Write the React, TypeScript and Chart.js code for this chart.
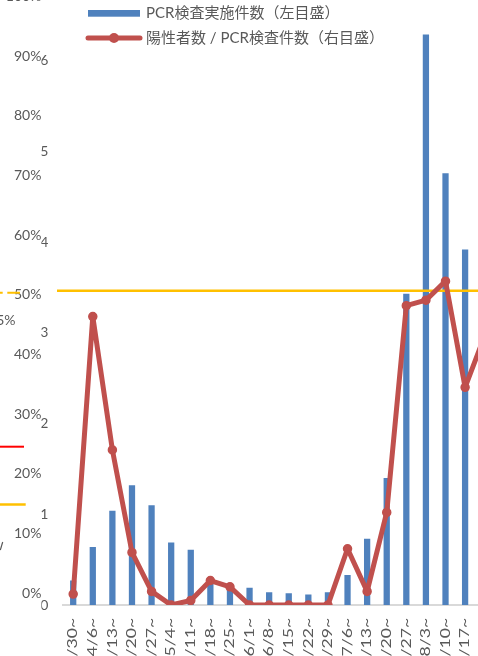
import React, { useEffect, useRef } from 'react';
import { Chart, registerables } from 'chart.js';

Chart.register(...registerables);

// ---- data ----
const categories = [
  '3/30~', '4/6~', '4/13~', '4/20~', '4/27~', '5/4~', '5/11~', '5/18~', '5/25~',
  '6/1~', '6/8~', '6/15~', '6/22~', '6/29~', '7/6~', '7/13~', '7/20~', '7/27~',
  '8/3~', '8/10~', '8/17~', '8/24~',
];
const pcrTests = [
  0.27, 0.64, 1.04, 1.32, 1.1, 0.69, 0.61, 0.24, 0.2,
  0.19, 0.14, 0.13, 0.115, 0.14, 0.33, 0.73, 1.4, 3.43,
  6.29, 4.76, 3.92, 3.5,
];
const positiveRatio = [
  0.12, 3.18, 1.71, 0.58, 0.15, 0, 0.05, 0.27, 0.2,
  0, 0, 0, 0, 0, 0.62, 0.15, 1.02, 3.3,
  3.36, 3.57, 2.4, 2.97,
];
const leftTicks = [0, 1, 2, 3, 4, 5, 6];
const pctTicks = [0, 10, 20, 30, 40, 50, 60, 70, 80, 90, 100];
const refLinePct = 50.7;
const barLabel = 'PCR検査実施件数（左目盛）';
const lineLabel = '陽性者数 / PCR検査件数（右目盛）';

const FONT = 'Lato, "Noto Sans CJK JP", sans-serif';
const GRAY = '#595959';
const BLUE = '#4F81BD';
const RED = '#C0504D';
const GOLD = '#FFC000';
const LABEL_STRETCH = 1.36;

export default function App() {
  const ref = useRef<HTMLCanvasElement>(null);

  useEffect(() => {
    const decor = {
      id: 'decor',
      beforeDraw(chart: any) {
        const s = chart.scales.x;
        if (s && !s.__stretched) {
          const orig = s.drawLabels.bind(s);
          s.drawLabels = (area: any) => {
            const ctx = chart.ctx;
            ctx.save();
            ctx.translate(0, s.top);
            ctx.scale(1, LABEL_STRETCH);
            ctx.translate(0, -s.top);
            orig(area);
            ctx.restore();
          };
          s.__stretched = true;
        }
      },
      afterDatasetDraw(chart: any, args: any) {
        if (args.meta.type !== 'bar') return;
        const ctx = chart.ctx;
        const y = chart.scales.yp.getPixelForValue(refLinePct);
        ctx.save();
        ctx.strokeStyle = GOLD;
        ctx.lineWidth = 2.5;
        ctx.beginPath();
        ctx.moveTo(chart.chartArea.left - 6.4, y);
        ctx.lineTo(chart.width, y);
        ctx.stroke();
        ctx.restore();
      },
      afterDraw(chart: any) {
        const ctx = chart.ctx;
        const off = 40;
        ctx.save();
        // legend
        ctx.font = `15px ${FONT}`;
        ctx.textBaseline = 'middle';
        ctx.textAlign = 'left';
        const ds = chart.data.datasets;
        ctx.fillStyle = BLUE;
        ctx.fillRect(88, 10 + off, 52, 6.7);
        ctx.fillStyle = GRAY;
        ctx.fillText(ds[0].label, 146, 13.5 + off);
        ctx.strokeStyle = RED;
        ctx.lineWidth = 5;
        ctx.lineCap = 'round';
        ctx.beginPath();
        ctx.moveTo(88, 38 + off);
        ctx.lineTo(140, 38 + off);
        ctx.stroke();
        ctx.fillStyle = RED;
        ctx.beginPath();
        ctx.arc(114, 38 + off, 5, 0, Math.PI * 2);
        ctx.fill();
        ctx.fillStyle = GRAY;
        ctx.fillText(ds[1].label, 146, 38.5 + off);

        // fragments of neighbouring chart at the left edge
        ctx.lineCap = 'butt';
        ctx.strokeStyle = GOLD;
        ctx.lineWidth = 2;
        ctx.beginPath();
        ctx.moveTo(0, 292.7 + off);
        ctx.lineTo(2.7, 292.7 + off);
        ctx.moveTo(7.3, 292.7 + off);
        ctx.lineTo(20, 292.7 + off);
        ctx.stroke();
        ctx.lineWidth = 2.5;
        ctx.beginPath();
        ctx.moveTo(0, 504.5 + off);
        ctx.lineTo(25.7, 504.5 + off);
        ctx.stroke();
        ctx.strokeStyle = '#FF0000';
        ctx.lineWidth = 2;
        ctx.beginPath();
        ctx.moveTo(0, 446.7 + off);
        ctx.lineTo(24, 446.7 + off);
        ctx.stroke();
        ctx.font = `14px ${FONT}`;
        ctx.fillStyle = GRAY;
        ctx.textAlign = 'right';
        ctx.fillText('45%', 15.5, 320 + off);
        ctx.strokeStyle = GRAY;
        ctx.lineWidth = 1.2;
        ctx.beginPath();
        ctx.moveTo(0.3, 550 + off);
        ctx.lineTo(2.7, 542 + off);
        ctx.stroke();
        ctx.restore();
      },
    };

    const tickFont = { family: FONT, size: 14 };
    const chart = new Chart(ref.current as HTMLCanvasElement, {
      type: 'bar',
      data: {
        labels: categories,
        datasets: [
          {
            type: 'bar',
            label: barLabel,
            data: pcrTests,
            backgroundColor: BLUE,
            yAxisID: 'y',
            barPercentage: 0.32,
            categoryPercentage: 1,
            order: 2,
          } as any,
          {
            type: 'line',
            label: lineLabel,
            data: positiveRatio,
            borderColor: RED,
            backgroundColor: RED,
            borderWidth: 5,
            pointRadius: 4,
            pointBorderWidth: 1.5,
            pointBackgroundColor: RED,
            pointBorderColor: RED,
            yAxisID: 'y2',
            tension: 0,
            borderJoinStyle: 'round',
            borderCapStyle: 'round',
            order: 1,
          } as any,
        ],
      },
      options: {
        responsive: false,
        animation: false,
        layout: { padding: { top: 10, left: 0, right: 0, bottom: 0 } },
        plugins: { legend: { display: false }, tooltip: { enabled: false } },
        scales: {
          x: {
            type: 'category',
            offset: true,
            grid: { display: false, drawTicks: false },
            border: { display: true, color: '#D9D9D9', width: 2 },
            ticks: {
              autoSkip: false,
              minRotation: 90,
              maxRotation: 90,
              padding: 9.3,
              color: GRAY,
              font: { family: FONT, size: 13 },
            },
            afterFit(s: any) {
              s.height = 75;
              s.paddingLeft = 0;
              s.paddingRight = 0;
            },
          },
          y: {
            position: 'left',
            weight: 0,
            min: 0,
            max: 7,
            grid: { display: false, drawTicks: false },
            border: { display: false },
            ticks: { padding: 15, color: GRAY, font: tickFont },
            afterBuildTicks(s: any) {
              s.ticks = leftTicks.map((v) => ({ value: v }));
            },
            afterFit(s: any) {
              s.width = 22;
              s.paddingTop = 0;
              s.paddingBottom = 0;
            },
          },
          yp: {
            position: 'left',
            weight: 1,
            min: -2.01,
            max: 104.48,
            grid: { display: false, drawTicks: false },
            border: { display: false },
            ticks: {
              padding: 0,
              color: GRAY,
              font: tickFont,
              callback: (v: any) => `${v}%`,
            },
            afterBuildTicks(s: any) {
              s.ticks = pctTicks.map((v) => ({ value: v }));
            },
            afterFit(s: any) {
              s.width = 41.4;
              s.paddingTop = 0;
              s.paddingBottom = 0;
            },
          },
          y2: {
            position: 'right',
            display: false,
            min: 0,
            max: 7,
          },
        },
      } as any,
      plugins: [decor],
    });
    return () => chart.destroy();
  }, []);

  return (
    <div
      style={{
        position: 'fixed',
        left: 0,
        top: 0,
        width: 478,
        height: 656,
        overflow: 'hidden',
        background: '#fff',
      }}
    >
      <canvas
        ref={ref}
        width={500}
        height={720}
        style={{ position: 'absolute', left: 0, top: -40, width: 500, height: 720 }}
      />
    </div>
  );
}
